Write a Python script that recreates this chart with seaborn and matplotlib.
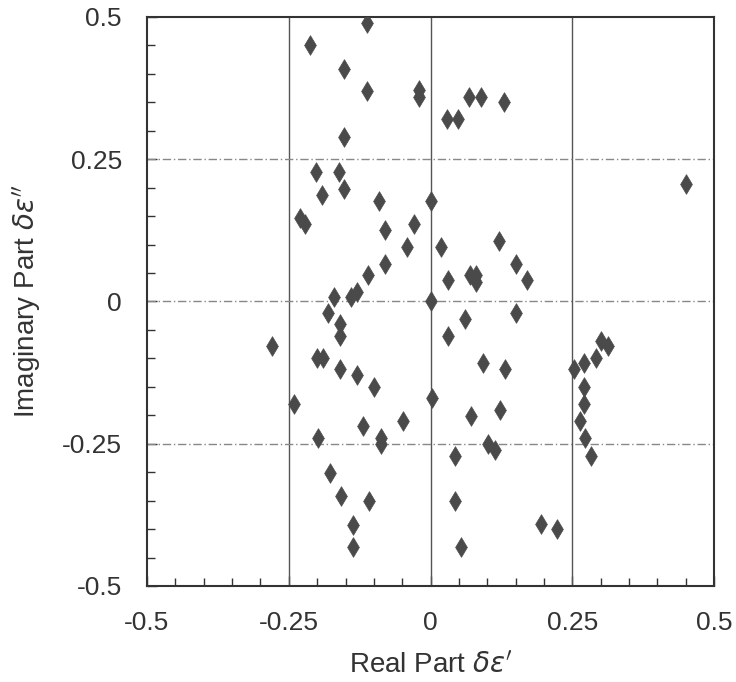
import seaborn as sns
import matplotlib.pyplot as plt
import numpy as np
import pandas as pd
from matplotlib.ticker import MultipleLocator

# deviations (real part, imaginary part)
real_part = [-0.1125, -0.2125, -0.152, -0.1125, -0.021, -0.021, 0.0685, 0.0885, 0.129, 0.029,
             0.049, -0.152, -0.202, -0.162, 0.450, -0.152, -0.192, -0.091, 0.0, -0.231,
             -0.221, -0.030, -0.080, 0.120, -0.041, 0.018, -0.080, 0.150, -0.111, 0.070,
             0.080, 0.080, 0.031, 0.170, -0.130, -0.171, -0.141, 0.0,
             -0.180, 0.150, 0.060, -0.160, -0.160, 0.031, 0.301, 0.312, -0.280, -0.201,
             -0.190, 0.291, 0.092, 0.271, -0.159, 0.132, 0.252, -0.129, -0.099, 0.271,
             0.002, -0.240, 0.271, 0.122, 0.072, -0.048, 0.263, -0.119, -0.199, -0.088,
             0.273, -0.088, 0.102, 0.113, 0.043, 0.283, -0.178, -0.158, -0.108, 0.043,
             0.194, 0.223, -0.137, -0.137, 0.053]
imag_part = [0.489, 0.450, 0.409, 0.370, 0.372, 0.359, 0.360, 0.360, 0.351, 0.320,
             0.320, 0.289, 0.227, 0.227, 0.207, 0.197, 0.187, 0.177, 0.177, 0.146,
             0.136, 0.136, 0.126, 0.106, 0.095, 0.095, 0.066, 0.066, 0.046, 0.046,
             0.046, 0.035, 0.037, 0.037, 0.017, 0.0085, 0.0085, 0.0,
             -0.021, -0.021, -0.031, -0.040, -0.061, -0.060, -0.069, -0.079, -0.079, -0.100,
             -0.100, -0.100, -0.109, -0.109, -0.119, -0.119, -0.119, -0.129, -0.150, -0.150,
             -0.169, -0.180, -0.180, -0.190, -0.201, -0.210, -0.210, -0.219, -0.240, -0.240,
             -0.240, -0.251, -0.250, -0.261, -0.271, -0.271, -0.301, -0.341, -0.351, -0.351,
             -0.391, -0.400, -0.392, -0.431, -0.431]

df = pd.DataFrame({"re": real_part, "im": imag_part})

sns.set_style("white")
plt.rcParams["font.family"] = ["Liberation Sans", "DejaVu Sans"]
plt.rcParams["mathtext.fontset"] = "dejavusans"

fig = plt.figure(figsize=(7.36, 6.82), dpi=100)
ax = fig.add_axes([0.1997, 0.1408, 0.7707, 0.8343])

for v in [-0.25, 0, 0.25]:
    ax.axvline(v, color="#555555", lw=1.0, zorder=1)
    ax.axhline(v, color="#888888", lw=1.0, ls=(0, (6, 2, 1, 2)), zorder=1)

sns.scatterplot(data=df, x="re", y="im", marker="d", s=100, color="#4a4a4a",
                edgecolor="#4a4a4a", linewidth=0.5, ax=ax, zorder=3)

ax.set_xlim(-0.5, 0.5)
ax.set_ylim(-0.5, 0.5)
ticks = [-0.5, -0.25, 0, 0.25, 0.5]
ticklabels = ["-0.5", "-0.25", "0", "0.25", "0.5"]
ax.set_xticks(ticks)
ax.set_xticklabels(ticklabels)
ax.set_yticks(ticks)
ax.set_yticklabels(ticklabels)
ax.xaxis.set_minor_locator(MultipleLocator(0.05))
ax.yaxis.set_minor_locator(MultipleLocator(0.05))
ax.tick_params(axis="both", which="both", direction="in", bottom=True, left=True,
               top=False, right=False, color="#333333")
ax.tick_params(axis="both", which="major", length=7, width=1, labelsize=19,
               labelcolor="#333333")
ax.tick_params(axis="x", which="major", pad=18)
ax.tick_params(axis="y", which="major", pad=18)
ax.tick_params(axis="both", which="minor", length=6, width=1)

for sp in ax.spines.values():
    sp.set_color("#333333")
    sp.set_linewidth(1.5)

ax.set_xlabel(r"Real Part $\delta\epsilon'$", fontsize=20, color="#333333", labelpad=12)
ax.set_ylabel(r"Imaginary Part $\delta\epsilon''$", fontsize=20, color="#333333", labelpad=14)

fig.savefig("out.png", dpi=100, facecolor="white")
